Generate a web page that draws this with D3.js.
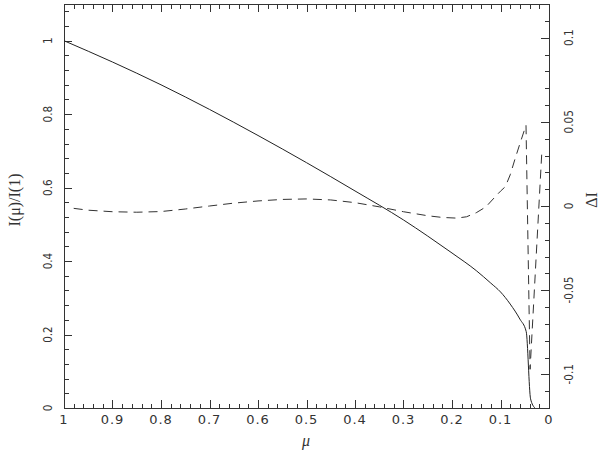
<!DOCTYPE html>
<html>
<head>
<meta charset="utf-8">
<script src="https://cdn.jsdelivr.net/npm/d3@7"></script>
<style>
body { margin: 0; background: #fff; }
svg { display: block; }
.tick-label { font-family: "DejaVu Sans", sans-serif; font-size: 13px; fill: #333; }
.title { font-family: "Liberation Serif", serif; font-size: 16px; fill: #333; }
</style>
</head>
<body>
<svg width="600" height="453"></svg>
<script>
// solid curve: normalised intensity I(mu)/I(1)
var muI = [1.0, 0.9, 0.8, 0.7, 0.6, 0.5, 0.4, 0.3, 0.25, 0.2, 0.15, 0.12, 0.1, 0.08, 0.06, 0.047, 0.038, 0.029];
var intensity = [1.000, 0.942, 0.880, 0.813, 0.742, 0.668, 0.591, 0.512, 0.468, 0.422, 0.374, 0.340, 0.316, 0.283, 0.242, 0.208, 0.025, 0];

// dashed curve: Delta I (right axis)
var muD = [0.98, 0.95, 0.9, 0.85, 0.8, 0.75, 0.7, 0.65, 0.6, 0.55, 0.5, 0.45, 0.4, 0.35, 0.3, 0.25, 0.22, 0.19, 0.17, 0.15, 0.13, 0.11, 0.1, 0.09, 0.08, 0.07, 0.06, 0.0474, 0.039, 0.015];
var deltaI = [-0.0014, -0.0025, -0.0034, -0.0037, -0.0033, -0.0018, 0.0000, 0.0017, 0.0030, 0.0039, 0.0042, 0.0036, 0.0020, -0.0005, -0.0034, -0.0058, -0.0068, -0.0072, -0.0064, -0.0040, -0.0005, 0.0058, 0.0088, 0.0115, 0.0185, 0.028, 0.037, 0.048, -0.097, 0.031];

// tick values
var xMajor = [1, 0.9, 0.8, 0.7, 0.6, 0.5, 0.4, 0.3, 0.2, 0.1, 0];
var xTickLabels = ["1", "0.9", "0.8", "0.7", "0.6", "0.5", "0.4", "0.3", "0.2", "0.1", "0"];
var leftMajor = [0, 0.2, 0.4, 0.6, 0.8, 1];
var leftTickLabels = ["0", "0.2", "0.4", "0.6", "0.8", "1"];
var rightMajor = [-0.1, -0.05, 0, 0.05, 0.1];
var rightTickLabels = ["-0.1", "-0.05", "0", "0.05", "0.1"];

var L = 64, R = 549, T = 4, B = 408;
var svg = d3.select("svg");

var x = d3.scaleLinear().domain([1, 0]).range([L, R]);
var yL = d3.scaleLinear().domain([0, 1.1]).range([B, T]);
var yR = d3.scaleLinear().domain([-0.12, 0.12]).range([B, T]);

function rng(a, b, step) { // minor tick positions
	var out = [];
	var n = Math.round((b - a) / step);
	for (var i = 0; i <= n; i++) out.push(+(a + i * step).toFixed(4));
	return out;
}
var xMinor = rng(0, 1, 0.02);
var leftMinor = rng(0, 1.08, 0.04);
var rightMinor = rng(-0.12, 0.12, 0.01);

var MAJ = 8, MIN = 4.5;
var g = svg.append("g").attr("stroke", "#333").attr("stroke-width", 1).attr("shape-rendering", "crispEdges");

// bottom + top ticks
xMinor.forEach(function(v) {
	var px = Math.round(x(v)) + 0.5;
	var len = xMajor.some(function(m) { return Math.abs(m - v) < 1e-6; }) ? MAJ : MIN;
	g.append("line").attr("x1", px).attr("x2", px).attr("y1", B).attr("y2", B - len);
	g.append("line").attr("x1", px).attr("x2", px).attr("y1", T).attr("y2", T + len);
});
// left ticks
leftMinor.forEach(function(v) {
	var py = Math.round(yL(v)) + 0.5;
	var len = leftMajor.some(function(m) { return Math.abs(m - v) < 1e-6; }) ? MAJ : MIN;
	g.append("line").attr("x1", L).attr("x2", L + len).attr("y1", py).attr("y2", py);
});
// right ticks
rightMinor.forEach(function(v) {
	var py = Math.round(yR(v)) + 0.5;
	var len = rightMajor.some(function(m) { return Math.abs(m - v) < 1e-6; }) ? MAJ : MIN;
	g.append("line").attr("x1", R).attr("x2", R - len).attr("y1", py).attr("y2", py);
});

// frame
g.append("rect").attr("x", L + 0.5).attr("y", T + 0.5).attr("width", R - L).attr("height", B - T).attr("fill", "none");

// tick labels
xMajor.forEach(function(v, i) {
	svg.append("text").attr("class", "tick-label")
		.attr("x", x(v)).attr("y", 424)
		.attr("text-anchor", "middle")
		.attr("letter-spacing", 1)
		.text(xTickLabels[i]);
});
leftMajor.forEach(function(v, i) {
	svg.append("text").attr("class", "tick-label")
		.attr("transform", "translate(52," + yL(v) + ") rotate(-90) scale(0.8,1)")
		.attr("text-anchor", "middle")
		.text(leftTickLabels[i]);
});
rightMajor.forEach(function(v, i) {
	svg.append("text").attr("class", "tick-label")
		.attr("transform", "translate(573," + yR(v) + ") rotate(-90) scale(0.8,1)")
		.attr("text-anchor", "middle")
		.text(rightTickLabels[i]);
});

// axis titles
svg.append("text").attr("class", "title")
	.attr("transform", "translate(20,200) rotate(-90)")
	.attr("text-anchor", "middle")
	.text("I(\u03bc)/I(1)");
svg.append("text").attr("class", "title")
	.attr("transform", "translate(597,200) rotate(-90)")
	.attr("text-anchor", "middle")
	.text("\u0394I");
svg.append("text").attr("class", "title")
	.attr("x", 306).attr("y", 446)
	.attr("text-anchor", "middle")
	.attr("font-style", "italic")
	.text("\u03bc");

// curves
var lineI = d3.line().curve(d3.curveMonotoneX).x(function(d) { return x(d[0]); }).y(function(d) { return yL(d[1]); });
var lineD = d3.line().x(function(d) { return x(d[0]); }).y(function(d) { return yR(d[1]); });

svg.append("path")
	.datum(d3.zip(muI, intensity))
	.attr("d", lineI)
	.attr("fill", "none").attr("stroke", "#222").attr("stroke-width", 1);

svg.append("path")
	.datum(d3.zip(muD, deltaI))
	.attr("d", lineD)
	.attr("fill", "none").attr("stroke", "#333").attr("stroke-width", 1)
	.attr("stroke-dasharray", "9,6");
</script>
</body>
</html>
